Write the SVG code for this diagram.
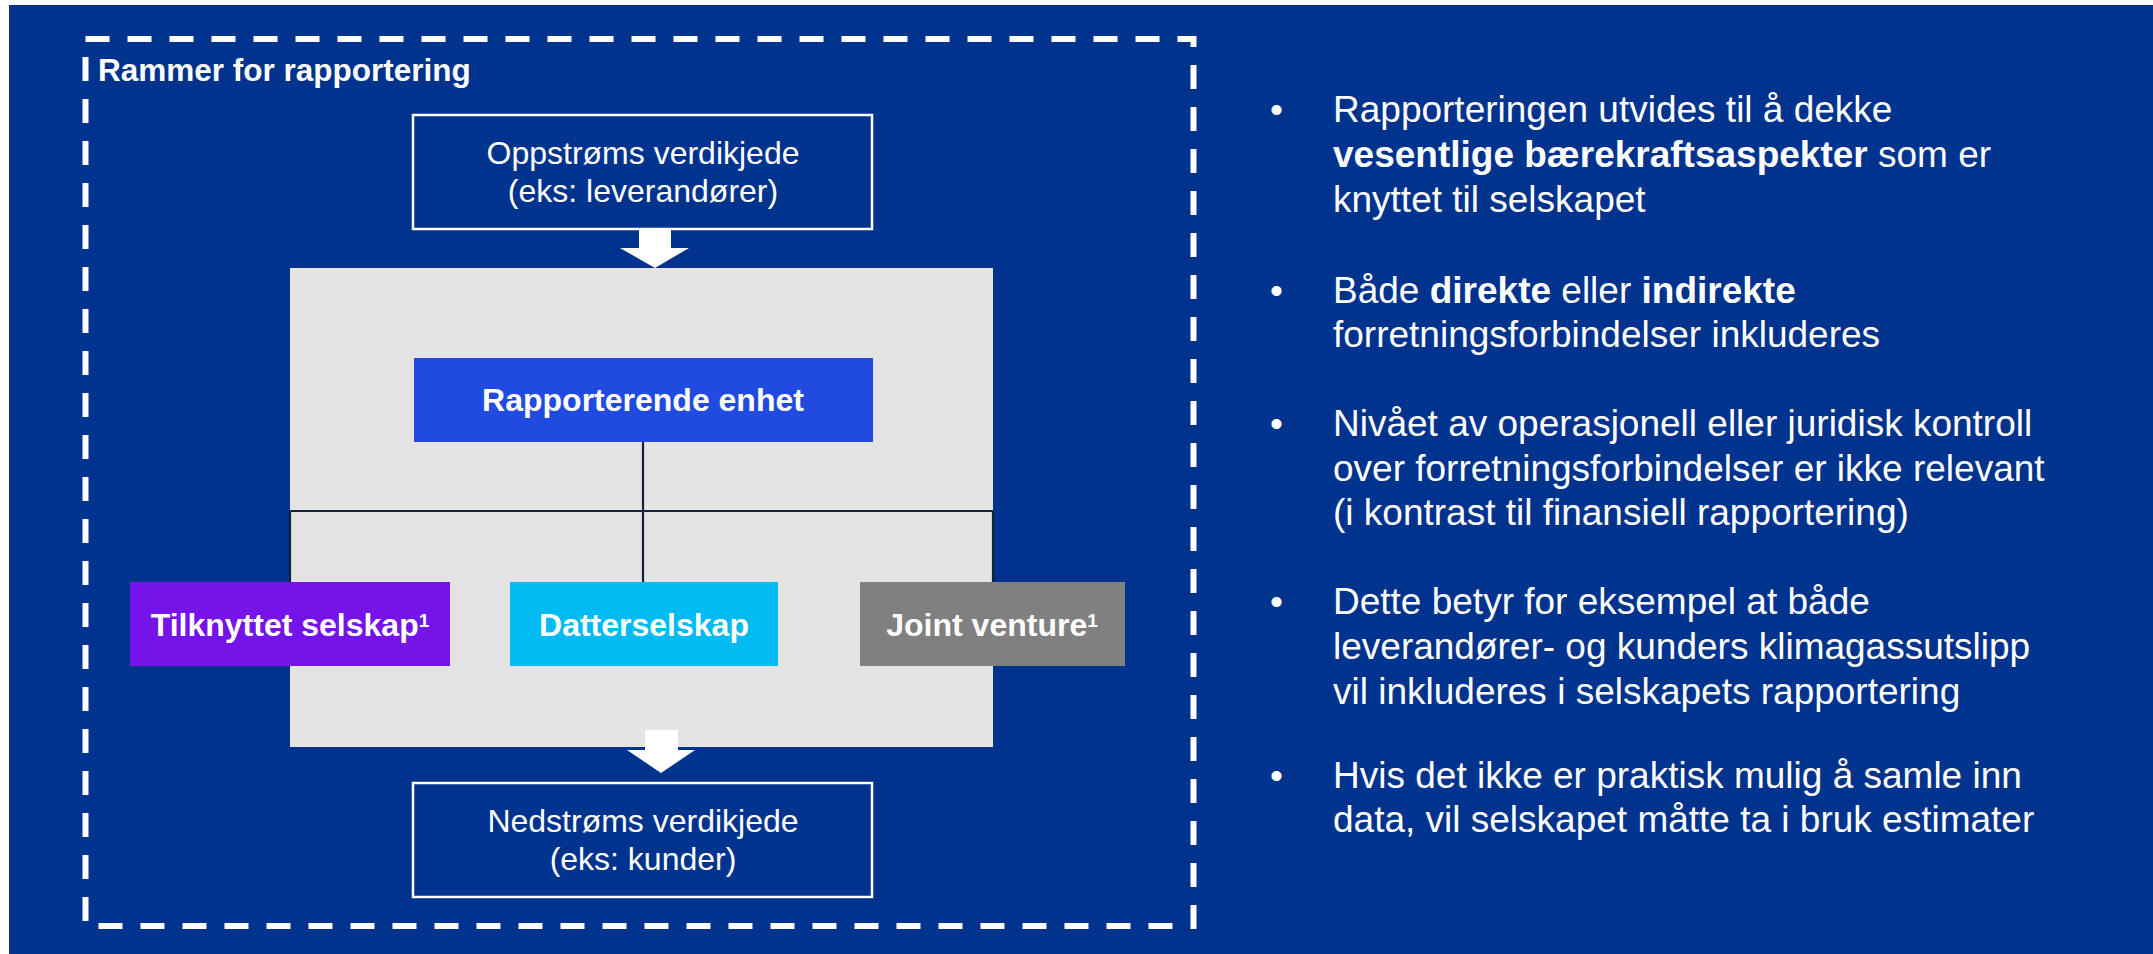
<svg xmlns="http://www.w3.org/2000/svg" width="2153" height="954" viewBox="0 0 2153 954">
<style>
.t{font-family:"Liberation Sans",Arial,sans-serif;fill:#ffffff}
.box{font-size:32px}
.b{font-weight:bold}
.r{font-size:37px}
.vc{fill:#00338D;stroke:#ffffff;stroke-width:2.5}
.conn{stroke:#13233A;stroke-width:2.2;fill:none}
</style>
<rect x="0" y="0" width="2153" height="954" fill="#ffffff"/>
<rect x="9" y="5" width="2144" height="949" fill="#00338D"/>
<g id="frame">
<path d="M85.5,39 H1193.5 V926 H85.5 Z" fill="none" stroke="#ffffff" stroke-width="6" stroke-dasharray="24 18"/>
<text class="t b" x="98" y="81" font-size="31.5">Rammer for rapportering</text>
</g>
<g id="entity-area">
<rect x="290" y="268" width="703" height="479" fill="#E4E4E4"/>
</g>
<g id="connectors">
<path class="conn" d="M643,442 V582"/>
<path class="conn" d="M290,511 H993" stroke-width="3"/>
<path class="conn" d="M290,511 V582 M993,511 V582"/>
<path d="M639,229 H671 V248 H689 L655,268 L620,248 H639 Z" fill="#ffffff"/>
<path d="M645,730 H678 V750 H695 L661,773 L627,750 H645 Z" fill="#ffffff"/>
</g>
<g id="upstream">
<rect class="vc" x="413" y="115" width="459" height="114"/>
<text class="t box" x="643" y="164" text-anchor="middle">Oppstrøms verdikjede</text>
<text class="t box" x="643" y="202" text-anchor="middle">(eks: leverandører)</text>
</g>
<g id="reporting-entity">
<rect x="414" y="358" width="459" height="84" fill="#214BE0"/>
<text class="t box b" x="643" y="411" text-anchor="middle">Rapporterende enhet</text>
</g>
<g id="associate">
<rect x="130" y="582" width="320" height="84" fill="#7414E8"/>
<text class="t box b" x="290" y="636" text-anchor="middle">Tilknyttet selskap<tspan font-size="19" dy="-9">1</tspan></text>
</g>
<g id="subsidiary">
<rect x="510" y="582" width="268" height="84" fill="#00BAF2"/>
<text class="t box b" x="644" y="636" text-anchor="middle">Datterselskap</text>
</g>
<g id="joint-venture">
<rect x="860" y="582" width="265" height="84" fill="#808080"/>
<text class="t box b" x="992" y="636" text-anchor="middle">Joint venture<tspan font-size="19" dy="-9">1</tspan></text>
</g>
<g id="downstream">
<rect class="vc" x="413" y="783" width="459" height="114"/>
<text class="t box" x="643" y="832" text-anchor="middle">Nedstrøms verdikjede</text>
<text class="t box" x="643" y="870" text-anchor="middle">(eks: kunder)</text>
</g>
<g id="bullets">
<text class="t r" x="1270" y="122">•</text>
<text class="t r" x="1333" y="122">Rapporteringen utvides til å dekke</text>
<text class="t r" x="1333" y="167"><tspan class="b">vesentlige bærekraftsaspekter</tspan> som er</text>
<text class="t r" x="1333" y="212">knyttet til selskapet</text>
<text class="t r" x="1270" y="303">•</text>
<text class="t r" x="1333" y="303">Både <tspan class="b">direkte</tspan> eller <tspan class="b">indirekte</tspan></text>
<text class="t r" x="1333" y="347">forretningsforbindelser inkluderes</text>
<text class="t r" x="1270" y="436">•</text>
<text class="t r" x="1333" y="436">Nivået av operasjonell eller juridisk kontroll</text>
<text class="t r" x="1333" y="481">over forretningsforbindelser er ikke relevant</text>
<text class="t r" x="1333" y="525">(i kontrast til finansiell rapportering)</text>
<text class="t r" x="1270" y="614">•</text>
<text class="t r" x="1333" y="614">Dette betyr for eksempel at både</text>
<text class="t r" x="1333" y="659">leverandører- og kunders klimagassutslipp</text>
<text class="t r" x="1333" y="704">vil inkluderes i selskapets rapportering</text>
<text class="t r" x="1270" y="788">•</text>
<text class="t r" x="1333" y="788">Hvis det ikke er praktisk mulig å samle inn</text>
<text class="t r" x="1333" y="832">data, vil selskapet måtte ta i bruk estimater</text>
</g>
</svg>
